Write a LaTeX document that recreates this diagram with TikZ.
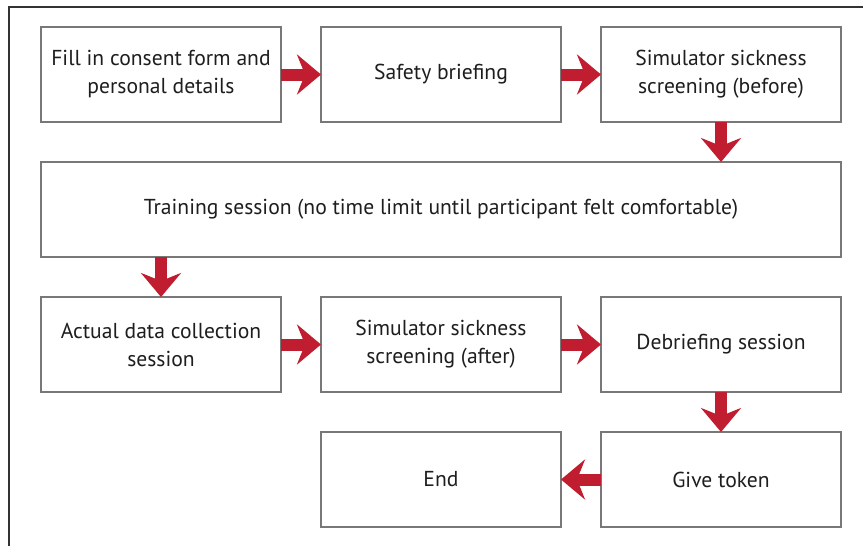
\documentclass[tikz,border=0pt]{standalone}
\usepackage{fontspec}
\setmainfont{PT Sans}
\usetikzlibrary{positioning, arrows.meta}
\definecolor{colorFlecha}{RGB}{192,30,48}
\definecolor{colorBorde}{RGB}{120,120,120}
\definecolor{colorTexto}{RGB}{30,30,30}

\begin{document}
\begin{tikzpicture}[
	x=0.5pt, y=-0.5pt,
	font=\fontsize{10.8}{14}\selectfont,
	paso/.style={rectangle, draw=colorBorde, line width=0.8pt, fill=white, outer sep=0pt,
	             align=center, text=colorTexto, minimum width=120pt, minimum height=47.5pt,
	             inner sep=2pt},
	ancho/.style={paso, minimum width=400pt},
	flecha/.style={-{Stealth[length=12pt, width=20pt, inset=4pt]}, draw=colorFlecha, line width=6pt},
	]

\useasboundingbox (0,0) rectangle (863,546);
\clip (0,0) rectangle (863,546);

% marco exterior
\draw[line width=0.9pt, black!80] (9,7) rectangle (900,600);

% Primera fila
\node[paso] (a1) at (161,74.5) {Fill in consent form and\\personal details};
\node[paso, right=20pt of a1] (a2) {Safety briefing};
\node[paso, right=20pt of a2] (a3) {Simulator sickness\\screening (before)};

\draw[flecha] (a1) -- (a2);
\draw[flecha] (a2) -- (a3);

% Entrenamiento
\node[ancho, below=20pt of a2] (b1) {Training session (no time limit until participant felt comfortable)};

\draw[flecha] (a3) -- (a3|-b1.north);

% Segunda fila
\node[paso, below=87.5pt of a1] (c1) {Actual data collection\\session};
\node[paso, right=20pt of c1] (c2) {Simulator sickness\\screening (after)};
\node[paso, right=20pt of c2] (c3) {Debriefing session};

\draw[flecha] (b1.south-|c1) -- (c1);
\draw[flecha] (c1) -- (c2);
\draw[flecha] (c2) -- (c3);

% Cierre
\node[paso, below=20pt of c3] (d1) {Give token};
\node[paso, left=20pt of d1] (d2) {End};

\draw[flecha] (c3) -- (d1);
\draw[flecha] (d1) -- (d2);

\end{tikzpicture}
\end{document}
